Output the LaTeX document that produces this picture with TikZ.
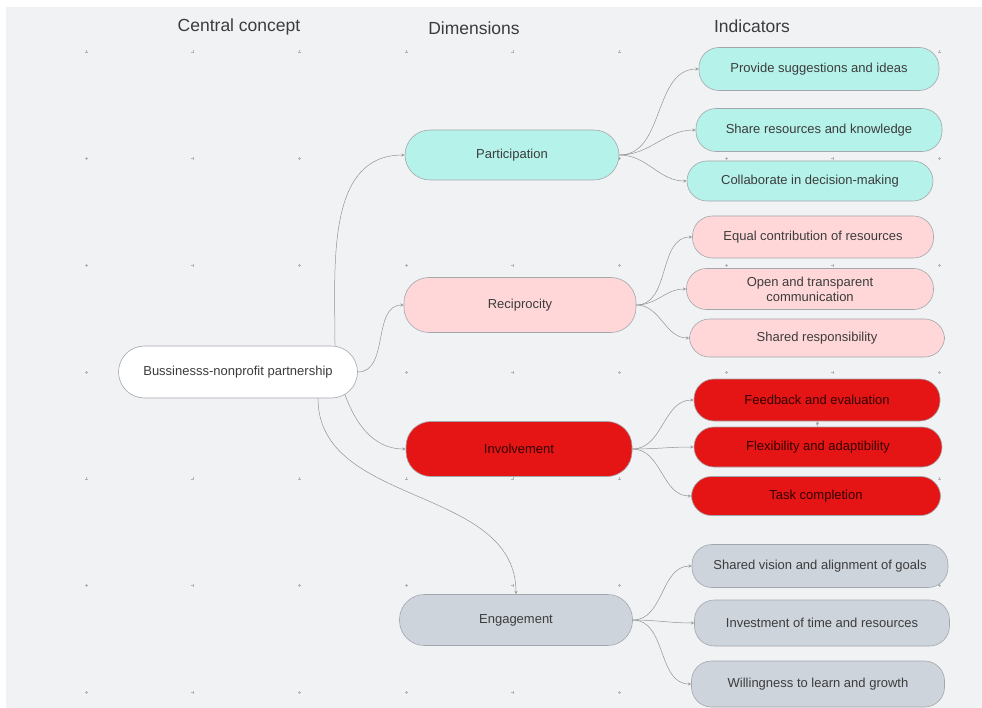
\documentclass[tikz,border=0pt]{standalone}
\usepackage{fontspec}
\setmainfont{Liberation Sans}
\definecolor{canvas}{HTML}{F1F2F4}
\definecolor{teal}{HTML}{B5F2EA}
\definecolor{pinkish}{HTML}{FFD7D8}
\definecolor{redbox}{HTML}{E51515}
\definecolor{greybox}{HTML}{CED4DC}
\definecolor{rim}{HTML}{A3A7AC}
\definecolor{ink}{HTML}{3C3C3C}
\begin{document}
\begin{tikzpicture}[x=1pt,y=1pt,
  head/.style={text=ink,font=\fontsize{17.5}{20}\selectfont},
  box/.style={draw=rim,line width=0.6pt,text=ink,font=\fontsize{13}{15}\selectfont,align=center},
  dim/.style={box,rounded corners=25pt,minimum height=52pt},
  ind/.style={box,rounded corners=20pt,minimum width=246pt,minimum height=42pt},
  link/.style={draw=gray!85,line width=0.5pt,->,>=stealth}]
\useasboundingbox (0,0) rectangle (982,-708);
\fill[white] (0,0) rectangle (982,-708);
\fill[canvas] (6,-7) rectangle (982,-708);
\foreach \i in {0,...,8}
  \foreach \j in {0,...,6}
    \draw[gray!60,line width=0.4pt] ({86+106.7*\i-1.5},{-52-106.7*\j}) -- ++(3,0)
      ({86+106.7*\i},{-52-106.7*\j-1.5}) -- ++(0,3);

\node[head] (hcen) at (239,-27) {Central concept};
\node[head] (hdim) at (474,-28) {Dimensions};
\node[head] (hind) at (752,-26) {Indicators};

\node[box,fill=white,rounded corners=26pt,minimum width=239pt,minimum height=52pt] (cen) at (238,-372) {Bussinesss-nonprofit partnership};

\node[dim,fill=teal,minimum width=214pt,minimum height=50pt] (part) at (512,-155) {Participation};
\node[dim,fill=pinkish,minimum width=232pt,minimum height=55pt] (reci) at (520,-305) {Reciprocity};
\node[dim,fill=redbox,text=black!80!red,minimum width=226pt,minimum height=55pt] (invo) at (519,-449) {Involvement};
\node[dim,fill=greybox,minimum width=233pt,minimum height=51pt] (enga) at (516,-620) {Engagement};

\node[ind,fill=teal,minimum width=240pt,minimum height=43pt] (sugg) at (819,-69) {Provide suggestions and ideas};
\node[ind,fill=teal,minimum height=43pt] (shar) at (819,-130) {Share resources and knowledge};
\node[ind,fill=teal,minimum height=40pt] (coll) at (810,-181) {Collaborate in decision-making};

\node[ind,fill=pinkish,minimum width=241pt] (equa) at (813,-237) {Equal contribution of resources};
\node[ind,fill=pinkish,minimum width=247pt,minimum height=41pt] (open) at (810,-289) {Open and transparent\\communication};
\node[ind,fill=pinkish,minimum width=255pt,minimum height=38pt] (resp) at (817,-338) {Shared responsibility};

\node[ind,fill=redbox,text=black!80!red] (feed) at (817,-400) {Feedback and evaluation};
\node[ind,fill=redbox,text=black!80!red,minimum width=248pt,minimum height=40pt] (flex) at (818,-447) {Flexibility and adaptibility};
\node[ind,fill=redbox,text=black!80!red,minimum width=249pt,minimum height=39pt] (task) at (816,-496) {Task completion};

\node[ind,fill=greybox,minimum width=256pt,minimum height=43pt] (visi) at (820,-566) {Shared vision and alignment of goals};
\node[ind,fill=greybox,minimum width=255pt,minimum height=46pt] (inve) at (822,-623) {Investment of time and resources};
\node[ind,fill=greybox,minimum width=253pt,minimum height=46pt] (will) at (818,-684) {Willingness to learn and growth};

\draw[link] ([xshift=97pt]cen.north) to[out=90,in=180] (part.west);
\draw[link] (cen.east) to[out=0,in=180] (reci.west);
\draw[link] ([xshift=-13pt,yshift=4pt]cen.south east) to[out=-70,in=180] (invo.west);
\draw[link] ([xshift=80pt]cen.south) to[out=-90,in=90] (enga.north);

\foreach \a/\b in {part/sugg,part/shar,part/coll,reci/equa,reci/open,reci/resp,invo/feed,invo/flex,invo/task,enga/visi,enga/inve,enga/will}
  \draw[link] (\a.east) to[out=0,in=180] (\b.west);
\draw[link] (flex.north) -- (feed.south);
\end{tikzpicture}
\end{document}
